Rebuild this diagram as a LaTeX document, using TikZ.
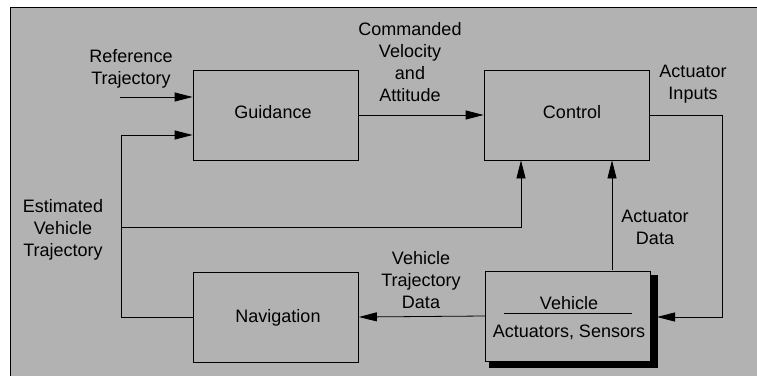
\documentclass[tikz,border=0pt]{standalone}
\usepackage{fontspec}
\setmainfont{Liberation Sans}
\usetikzlibrary{arrows.meta,calc}
\begin{document}
\begin{tikzpicture}[x=1pt,y=-1pt,
  blk/.style={draw=black,line width=0.8pt,minimum width=165pt,minimum height=90pt,inner sep=0pt},
  lbl/.style={align=center,inner sep=0pt,font=\fontsize{18}{22}\selectfont},
  txt/.style={inner sep=0pt,font=\fontsize{18}{22}\selectfont},
  arr/.style={draw=black,line width=0.8pt,-{Triangle[length=18pt,width=9pt]}},
  ln/.style={draw=black,line width=0.8pt}]
\useasboundingbox (0,0) rectangle (757,375);
% background panel
\fill[black!30] (10,7) rectangle (760,380);
\draw[line width=0.8pt] (10,380) -- (10,7) -- (760,7);
% blocks
\node[blk] (guid) at (275.5,115) {};
\node[blk] (ctrl) at (566.5,115) {};
\node[blk] (nav) at (276,317) {};
\node[blk] (veh) at (568,316) {};
\node[txt] at (273,112) {Guidance};
\node[txt] at (572,112) {Control};
\node[txt] at (278,318) {Navigation};
\node[txt] (vt) at (569,303) {Vehicle};
\node[txt] (va) at (569,332) {Actuators, Sensors};
\draw[ln] (504,313) -- (632,313);
% shadow
\fill ($(veh.north east)+(0,4)$) rectangle ($(veh.south east)+(7,7)$);
\fill ($(veh.south west)+(4,0)$) rectangle ($(veh.south east)+(7,7)$);
% coordinates
\coordinate (refin) at (120,97);
\coordinate (fb) at (121,135);
\coordinate (jn) at (121,227);
\coordinate (c1) at (521,227);
\coordinate (ad) at (612,270);
\coordinate (ai) at (722,115);
\coordinate (vin) at (657,317);
% connectors
\draw[arr] (refin) -- (refin -| guid.west);
\draw[arr] (nav.west) -| (fb) -- (fb -| guid.west);
\draw[arr] (jn) -- (c1) -- (c1 |- ctrl.south);
\draw[arr] (guid.east) -- (ctrl.west);
\draw[arr] (ad) -- (ad |- ctrl.south);
\draw[arr] (ctrl.east) -- (ai) |- (vin);
\draw[arr] (veh.west) -- (nav.east);
% labels
\node[lbl] at (131,68.5) {Reference\\Trajectory};
\node[lbl] at (410,62) {Commanded\\Velocity\\and\\Attitude};
\node[lbl] at (693,84.5) {Actuator\\Inputs};
\node[lbl] at (63,230) {Estimated\\Vehicle\\Trajectory};
\node[lbl] at (421,280) {Vehicle\\Trajectory\\Data};
\node[lbl] at (655,227) {Actuator\\Data};
\end{tikzpicture}
\end{document}
